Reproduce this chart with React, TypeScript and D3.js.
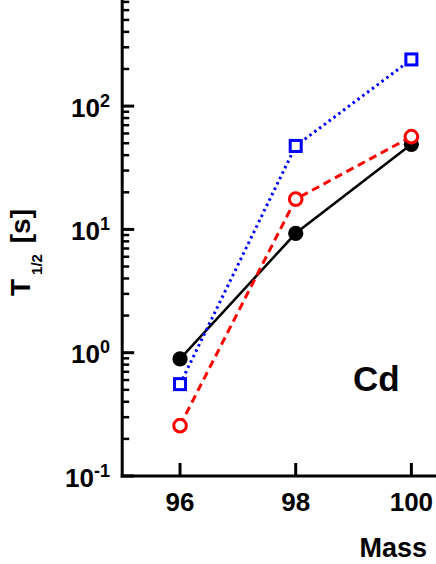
import React from "react";
import * as d3 from "d3";

const masses = [96, 98, 100];
const blackValues = [0.89, 9.3, 49];
const redValues = [0.256, 17.6, 56.5];
const blueValues = [0.556, 47.5, 239];
const xTicks = [96, 98, 100];
const yMajorTicks = [0.1, 1, 10, 100];
const yExponents = ["-1", "0", "1", "2"];

const W = 436;
const H = 564;
const FONT = "'Liberation Sans', Arial, sans-serif";

export default function App() {
  const x = d3.scaleLinear().domain([95, 100.5]).range([122.2, 440.3]);
  const y = d3.scaleLog().domain([0.1, 1000]).range([476, 476 - 4 * 123.3]);

  const minor: number[] = [];
  for (let e = -1; e < 3; e++) {
    for (let m = 2; m <= 9; m++) minor.push(m * Math.pow(10, e));
  }

  const line = d3
    .line<[number, number]>()
    .x((d) => x(d[0]))
    .y((d) => y(d[1]));

  const pts = (vals: number[]) => masses.map((m, i) => [m, vals[i]] as [number, number]);

  const x0 = x(95);
  const y0 = y(0.1);

  return (
    <svg
      width={W}
      height={H}
      style={{ position: "absolute", left: 0, top: 0, background: "#fff" }}
      fontFamily={FONT}
      fontWeight="bold"
    >
      <rect width={W} height={H} fill="#fff" />
      {/* series lines */}
      <path d={line(pts(blackValues)) || ""} fill="none" stroke="#000" strokeWidth={2.5} />
      <path
        d={line(pts(redValues)) || ""}
        fill="none"
        stroke="#ff0000"
        strokeWidth={3}
        strokeDasharray="8,5"
      />
      <path
        d={line(pts(blueValues)) || ""}
        fill="none"
        stroke="#0000ff"
        strokeWidth={3}
        strokeDasharray="2.5,3.5"
      />
      {/* markers */}
      {pts(blackValues).map((d, i) => (
        <circle key={"b" + i} cx={x(d[0])} cy={y(d[1])} r={7.6} fill="#000" />
      ))}
      {pts(redValues).map((d, i) => (
        <circle
          key={"r" + i}
          cx={x(d[0])}
          cy={y(d[1])}
          r={6.3}
          fill="#fff"
          stroke="#ff0000"
          strokeWidth={3}
        />
      ))}
      {pts(blueValues).map((d, i) => (
        <rect
          key={"s" + i}
          x={x(d[0]) - 5.5}
          y={y(d[1]) - 5.5}
          width={11}
          height={11}
          fill="#fff"
          stroke="#0000ff"
          strokeWidth={3}
        />
      ))}
      {/* axes */}
      <line x1={x0} x2={x0} y1={y0 + 1.5} y2={-30} stroke="#000" strokeWidth={3} />
      <line x1={x0 - 1.5} x2={W + 10} y1={y0} y2={y0} stroke="#000" strokeWidth={3} />
      {yMajorTicks.map((t) => (
        <line key={"ym" + t} x1={x0} x2={x0 + 12} y1={y(t)} y2={y(t)} stroke="#000" strokeWidth={3} />
      ))}
      {minor.map((t) => (
        <line key={"yn" + t} x1={x0} x2={x0 + 7} y1={y(t)} y2={y(t)} stroke="#000" strokeWidth={2.5} />
      ))}
      {xTicks.map((t) => (
        <line key={"xt" + t} x1={x(t)} x2={x(t)} y1={y0} y2={y0 - 13} stroke="#000" strokeWidth={3} />
      ))}
      {/* tick labels */}
      {xTicks.map((t) => (
        <text key={"xl" + t} x={x(t)} y={511} fontSize={26} textAnchor="middle" fill="#000">
          {t}
        </text>
      ))}
      {yMajorTicks.map((t, i) => (
        <text key={"yl" + t} x={110} y={y(t) + 10.5} fontSize={26} textAnchor="end" fill="#000">
          10
          <tspan fontSize={18} dy={-10}>
            {yExponents[i]}
          </tspan>
        </text>
      ))}
      {/* axis titles */}
      <text x={427} y={557} fontSize={27} textAnchor="end" fill="#000">
        Mass
      </text>
      <text transform="translate(30,296) rotate(-90)" fontSize={28} fill="#000">
        T
        <tspan fontSize={15} dx={4} dy={12}>
          1/2
        </tspan>
        <tspan dx={3} dy={-12}> [s]</tspan>
      </text>
      <text x={353} y={391} fontSize={35} fill="#000">
        Cd
      </text>
    </svg>
  );
}
